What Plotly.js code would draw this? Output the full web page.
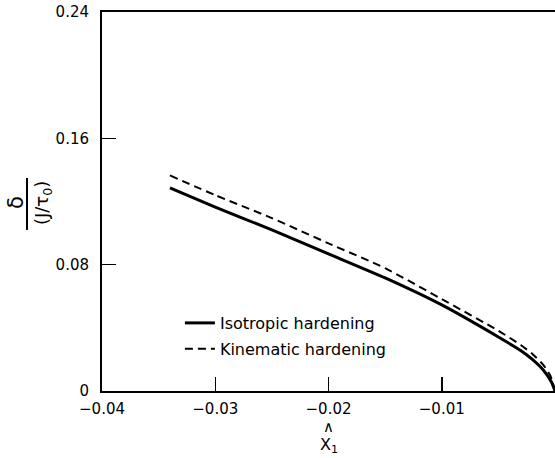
<!DOCTYPE html>
<html>
<head>
<meta charset="utf-8">
<script src="https://cdn.plot.ly/plotly-3.0.1.min.js"></script>
<style>html,body{margin:0;padding:0;background:#fff;}#chart{width:555px;height:458px;}</style>
</head>
<body>
<div id="chart"></div>
<script>
// Data
var isoX = [-0.034, -0.030, -0.025, -0.020, -0.015, -0.010, -0.005, -0.003, -0.002, -0.001, -0.0003, 0];
var isoY = [0.1286, 0.1165, 0.1020, 0.0868, 0.0716, 0.0545, 0.0342, 0.0255, 0.0200, 0.0130, 0.0055, 0];
var kinX = [-0.034, -0.030, -0.025, -0.020, -0.015, -0.010, -0.005, -0.003, -0.002, -0.001, -0.0004, 0];
var kinY = [0.1365, 0.1240, 0.1095, 0.0935, 0.0778, 0.0582, 0.0382, 0.0290, 0.0235, 0.0163, 0.0095, 0];
var xTickVals = [-0.04, -0.03, -0.02, -0.01, 0];
var xTickText = ['\u22120.04', '\u22120.03', '\u22120.02', '\u22120.01', '0'];
var yTickVals = [0, 0.08, 0.16, 0.24];
var yTickText = ['0', '0.08', '0.16', '0.24'];
var seriesNames = ['Isotropic hardening', 'Kinematic hardening'];

var FONT = 'DejaVu Sans, Arial, sans-serif';

var traces = [
  {x: isoX, y: isoY, mode: 'lines', name: seriesNames[0], legendgroup: 'a',
   line: {color: '#000', width: 3, shape: 'spline', smoothing: 0.5}},
  {x: kinX, y: kinY, mode: 'lines', name: seriesNames[1], legendgroup: 'b',
   line: {color: '#000', width: 2, dash: '8px,5px', shape: 'spline', smoothing: 0.5}}
];

var layout = {
  width: 555, height: 458,
  margin: {l: 102, r: 0, t: 12, b: 67},
  paper_bgcolor: '#fff', plot_bgcolor: '#fff',
  font: {family: FONT, color: '#000', size: 15},
  showlegend: true,
  legend: {x: 0.172, y: 0.2243, xanchor: 'left', yanchor: 'top',
           bgcolor: 'rgba(0,0,0,0)', font: {family: FONT, size: 16, color: '#000'},
           tracegroupgap: 2},
  xaxis: {
    range: [-0.04, 0], tickvals: xTickVals, ticktext: xTickText,
    ticks: 'inside', ticklen: 14, tickwidth: 1.5, tickcolor: '#000',
    showline: true, linecolor: '#000', linewidth: 2, mirror: true,
    showgrid: false, zeroline: false, ticklabelstandoff: 3,
    tickfont: {family: FONT, size: 15, color: '#000'}
  },
  yaxis: {
    range: [0, 0.24], tickvals: yTickVals, ticktext: yTickText,
    ticks: 'inside', ticklen: 14, tickwidth: 1.5, tickcolor: '#000',
    showline: true, linecolor: '#000', linewidth: 2, mirror: true,
    showgrid: false, zeroline: false, ticklabelstandoff: 8,
    tickfont: {family: FONT, size: 15, color: '#000'}
  },
  annotations: [
    {xref: 'paper', yref: 'paper', x: 0.5, y: -0.096, text: '\u2227', showarrow: false,
     xanchor: 'center', yanchor: 'middle', font: {family: FONT, size: 15, color: '#000'}},
    {xref: 'paper', yref: 'paper', x: 0.5, y: -0.145, text: 'X<sub>1</sub>', showarrow: false,
     xanchor: 'center', yanchor: 'middle', font: {family: FONT, size: 16, color: '#000'}},
    {xref: 'paper', yref: 'paper', x: -0.19, y: 0.4987, text: '\u03b4', showarrow: false,
     textangle: -90, xanchor: 'center', yanchor: 'middle', font: {family: FONT, size: 21, color: '#000'}},
    {xref: 'paper', yref: 'paper', x: -0.1302, y: 0.496, text: '(J/\u03c4<sub>0</sub>)', showarrow: false,
     textangle: -90, xanchor: 'center', yanchor: 'middle', font: {family: FONT, size: 18, color: '#000'}}
  ],
  shapes: [
    {type: 'line', xref: 'paper', yref: 'paper', x0: -0.1656, x1: -0.1656, y0: 0.425, y1: 0.562,
     line: {color: '#000', width: 2}}
  ]
};

Plotly.newPlot('chart', traces, layout, {displayModeBar: false, staticPlot: true});
</script>
</body>
</html>
